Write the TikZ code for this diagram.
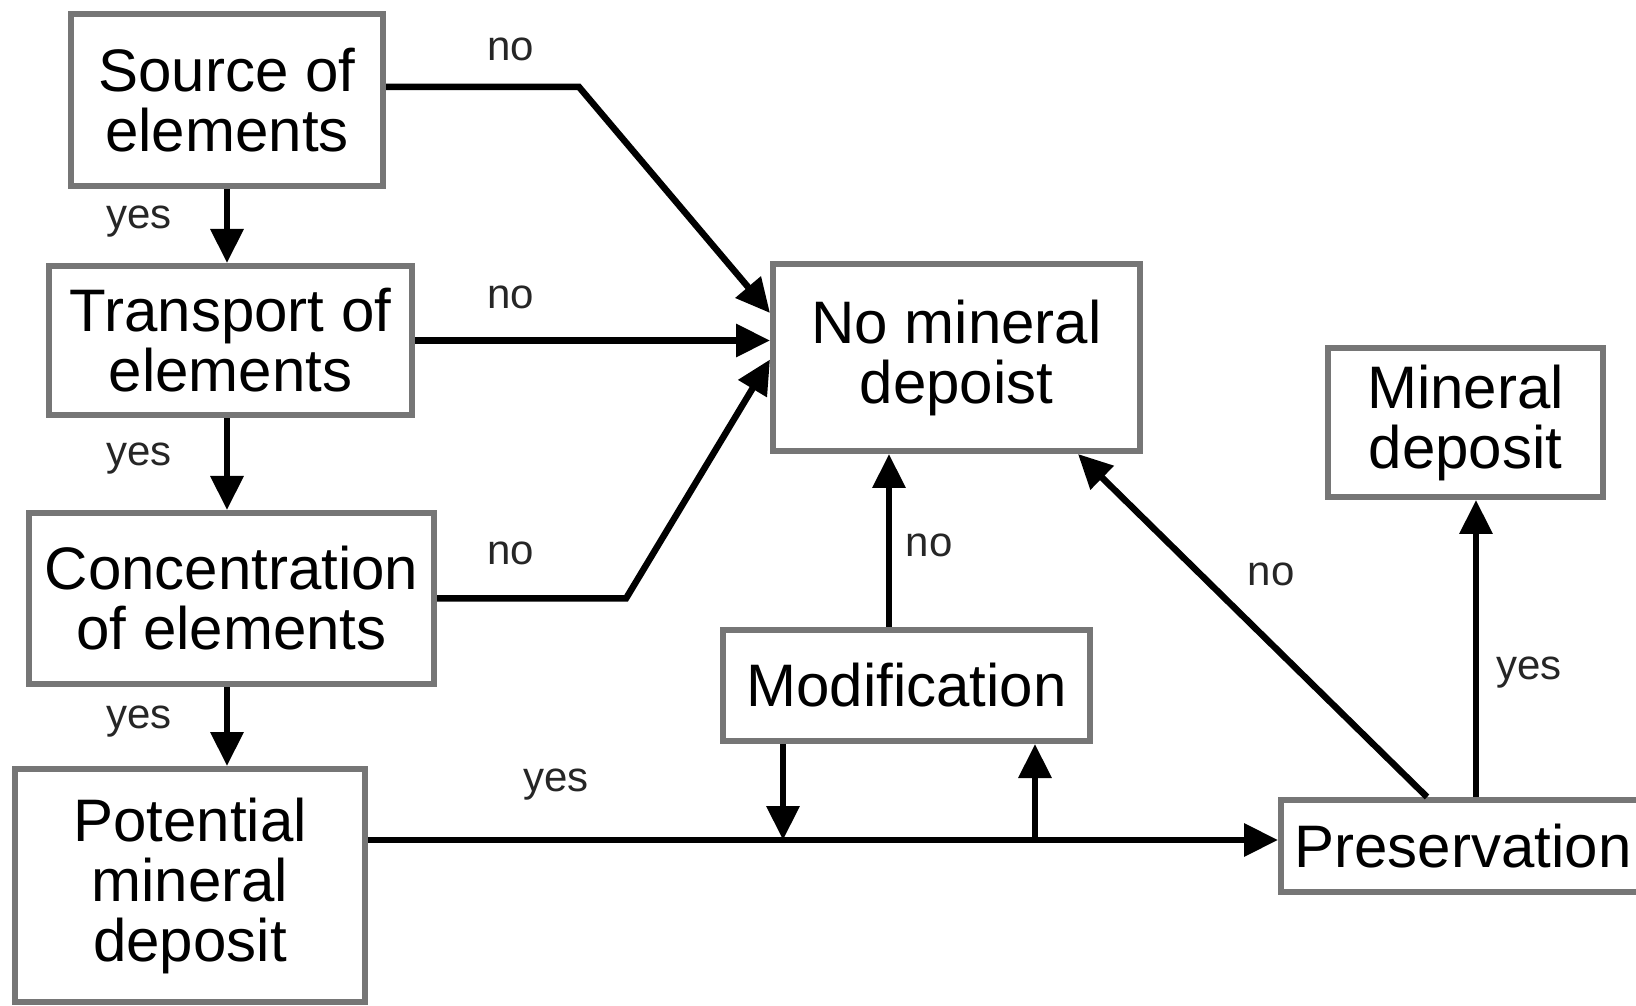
\documentclass[tikz,border=0pt]{standalone}
\usepackage{fontspec}
\setmainfont{Liberation Sans}
\usetikzlibrary{arrows.meta}
\definecolor{boxgray}{HTML}{767676}
\begin{document}
\begin{tikzpicture}[x=1pt,y=1pt,
  box/.style={draw=boxgray, line width=6pt, align=center, inner sep=0pt, fill=white,
    font=\fontsize{60}{60}\selectfont},
  lab/.style={font=\fontsize{42}{42}\selectfont, inner sep=0pt, text=black!85},
  arr/.style={line width=6.5pt, -{Triangle[length=34pt,width=32pt]}}]
\useasboundingbox (0,0) rectangle (1636,1005);
\clip (0,0) rectangle (1636,1005);
\fill[white] (0,0) rectangle (1636,1005);

% boxes
\node[box, minimum width=312pt, minimum height=172pt] (src) at (227,905) {Source of\\elements};
\node[box, minimum width=363pt, minimum height=149pt] (trans) at (230.5,664.5) {Transport of\\elements};
\node[box, minimum width=405pt, minimum height=171pt] (conc) at (231.5,406.5) {Concentration\\of elements};
\node[box, minimum width=350pt, minimum height=233pt] (pot) at (190,119.5) {Potential\\mineral\\deposit};
\node[box, minimum width=367pt, minimum height=187pt] (nmd) at (956.5,647.5) {No mineral\\depoist};
\node[box, minimum width=275pt, minimum height=149pt] (md) at (1465.5,582.5) {Mineral\\deposit};
\node[box, minimum width=367pt, minimum height=111pt] (mod) at (906.5,319.5) {Modification};
\node[box, minimum width=364pt, minimum height=92pt] (pres) at (1463,159) {Preservation};

% coordinates
\coordinate (b1) at (579,918);
\coordinate (t1) at ([yshift=44.5pt]nmd.west);
\coordinate (b3) at (626,406.5);
\coordinate (m) at (0,165);
\coordinate (j1) at (783,165);
\coordinate (j2) at (1035,165);
\coordinate (c1) at (889,0);
\coordinate (p1) at (1427,0);
\coordinate (p2) at ([xshift=-65pt]nmd.south east);
\coordinate (q) at (1476,0);

% connectors to "No mineral depoist"
\draw[arr] (src.east |- b1) -- (b1) -- (t1);
\draw[arr] (trans.east) -- (trans.east -| nmd.west);
\draw[arr] (conc.east) -- (b3) -- ([yshift=-2pt]nmd.west);

% yes chain
\draw[arr] (src.south) -- (src.south |- trans.north);
\draw[arr] (src.south |- trans.south) -- (src.south |- conc.north);
\draw[arr] (src.south |- conc.south) -- (src.south |- pot.north);

% main line
\draw[arr] (pot.east |- m) -- (pres.west |- m);
\draw[arr] (mod.south -| j1) -- (j1);
\draw[arr] (j2) -- (mod.south -| j2);
\draw[arr] (mod.north -| c1) -- (nmd.south -| c1);
\draw[arr] (pres.north -| p1) -- (p2);
\draw[arr] (pres.north -| q) -- (md.south -| q);

% labels
\node[lab] (l1) at (511,956) {no};
\node[lab] (l2) at (139,783) {yes};
\node[lab] (l3) at (511,708) {no};
\node[lab] (l4) at (139,546) {yes};
\node[lab] (l5) at (511,452) {no};
\node[lab] (l6) at (139,283) {yes};
\node[lab] (l7) at (556,220) {yes};
\node[lab] (l8) at (929,460) {no};
\node[lab] (l9) at (1271,431) {no};
\node[lab] (l10) at (1529,332) {yes};
\end{tikzpicture}
\end{document}
